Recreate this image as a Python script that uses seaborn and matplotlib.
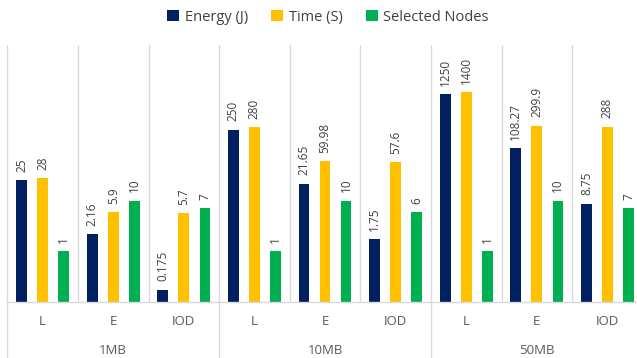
import matplotlib
matplotlib.use("Agg")
import matplotlib.pyplot as plt
import matplotlib.transforms as mtransforms
import seaborn as sns
import pandas as pd

# Data
groups = ["1MB", "10MB", "50MB"]
methods = ["L", "E", "IOD"]
series = ["Energy (J)", "Time (S)", "Selected Nodes"]
energy = [25, 2.16, 0.175, 250, 21.65, 1.75, 1250, 108.27, 8.75]
time_s = [28, 5.9, 5.7, 280, 59.98, 57.6, 1400, 299.9, 288]
nodes = [1, 10, 7, 1, 10, 6, 1, 10, 7]
colors = ["#002060", "#FFC000", "#00B050"]

keys = [f"{g} {m}" for g in groups for m in methods]
rows = []
for name, vals in zip(series, [energy, time_s, nodes]):
    for k, v in zip(keys, vals):
        rows.append({"key": k, "series": name, "value": v})
df = pd.DataFrame(rows)

sns.set_theme(style="white")
plt.rcParams["font.family"] = ["Open Sans", "DejaVu Sans"]

fig = plt.figure(figsize=(6.37, 3.58), dpi=100)
ax = fig.add_axes([0.0115, 0.1564, 0.9975, 0.7179])

sns.barplot(data=df, x="key", y="value", hue="series", order=keys,
            hue_order=series, palette=colors, saturation=1, width=0.894,
            gap=0.49, linewidth=0, ax=ax, legend=True)
ax.set_yscale("log")
ax.set_ylim(0.1, 10 ** 4.07)
ax.set_xlim(-0.5, len(keys) - 0.5)

for cont in ax.containers:
    ax.bar_label(cont, fmt="{:g}", rotation=90, padding=6,
                 fontsize=8.5, color="#404040")

# Axes styling
for s in ["top", "right", "left"]:
    ax.spines[s].set_visible(False)
ax.spines["bottom"].set_color("#d9d9d9")
ax.spines["bottom"].set_linewidth(1)
ax.set_yticks([])
ax.minorticks_off()
ax.set_ylabel("")
ax.set_xlabel("")
ax.set_xticks(range(len(keys)))
ax.set_xticklabels(methods * len(groups), fontsize=9.5, color="#595959")
ax.tick_params(axis="x", length=0, pad=9)

# Category separators and group separators
grid_c = "#d9d9d9"
for i in range(len(keys) + 1):
    x = i - 0.5
    if i % 3 == 0:
        ax.axvline(x, ymin=-0.22, ymax=1, color=grid_c, lw=1, clip_on=False, zorder=0)
    else:
        ax.axvline(x, ymin=0, ymax=1, color=grid_c, lw=1, zorder=0)

trans = mtransforms.blended_transform_factory(ax.transData, ax.transAxes)
for gi, g in enumerate(groups):
    ax.text(gi * 3 + 1, -0.187, g, transform=trans, ha="center", va="center",
            fontsize=9.5, color="#595959")

# Legend
handles, labels = ax.get_legend_handles_labels()
ax.get_legend().remove()
fig.legend(handles, labels, loc="center", bbox_to_anchor=(0.515, 0.952),
           ncol=3, frameon=False, fontsize=10.5, handlelength=0.8,
           handleheight=0.8, handletextpad=0.4, columnspacing=1.6,
           labelcolor="#404040")

fig.savefig("out.png", dpi=100)
